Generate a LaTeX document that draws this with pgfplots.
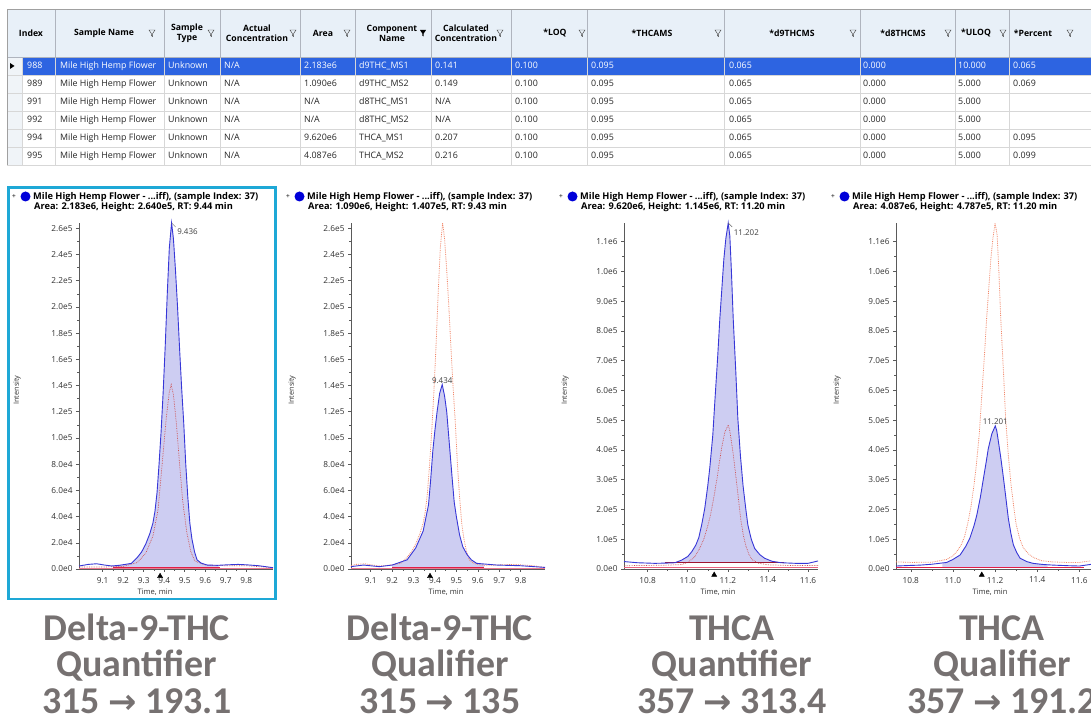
\documentclass[border=0pt]{standalone}
\usepackage{fontspec}
\setmainfont{Open Sans}
\newfontfamily\calib{Carlito}
\newfontfamily\dejavu{DejaVu Sans}
\usepackage{pgfplots}
\pgfplotsset{compat=1.18}

\definecolor{hdrbg}{RGB}{232,240,248}
\definecolor{selcol}{RGB}{240,244,248}
\definecolor{selbg}{RGB}{45,100,225}
\definecolor{gridc}{RGB}{215,215,215}
\definecolor{hgrid}{RGB}{175,180,190}
\definecolor{tborder}{RGB}{160,160,160}
\definecolor{framec}{RGB}{30,168,214}
\definecolor{lbl}{RGB}{118,113,113}
\definecolor{traceblue}{RGB}{55,55,215}
\definecolor{fillblue}{RGB}{205,205,242}
\definecolor{tracered}{RGB}{205,80,80}
\definecolor{salmon}{RGB}{242,135,105}
\definecolor{baser}{RGB}{225,30,70}
\definecolor{axisc}{RGB}{90,90,90}
\definecolor{pin}{RGB}{25,35,160}

\newcommand\tabfont{\fontsize{8.9}{10}\selectfont}
\newcommand\hdrfont{\fontsize{8.7}{10}\selectfont\bfseries}
\newcommand\ttlfont{\fontsize{9.3}{10}\selectfont\bfseries}
\newcommand\bigfont{\calib\fontsize{38}{40}\selectfont\bfseries}
\newcommand\trow[3]{\foreach \cx/\ct in {#3}{\node[anchor=mid west, inner sep=0pt, text=#2, font=\tabfont] at (\cx,#1) {\ct};}}

\pgfplotsset{chrom/.style={
  scale only axis, anchor=south west, height=346bp,
  axis lines=left, axis line style={axisc, -, line width=0.6pt},
  tick style={axisc, line width=0.5pt}, tick align=outside,
  major tick length=3bp, minor tick length=1.8bp,
  minor y tick num=1, minor x tick num=1,
  tick label style={font=\fontsize{8.3}{9}\selectfont, text=black!80},
  xticklabel style={yshift=-1.5bp},
  /pgf/number format/assume math mode=true,
  xticklabel={\pgfmathprintnumber[fixed,fixed zerofill,precision=1]{\tick}},
  scaled y ticks=false, scaled x ticks=false,
  clip=false, ymin=0,
}}

\begin{document}
\begin{tikzpicture}
\useasboundingbox (0,0) rectangle (1091bp,723bp);
\fill[white] (0,0) rectangle (1091bp,723bp);

\begin{scope}[x=1bp,y=1bp]
% ---------------- table ----------------
\fill[hdrbg] (7,666) rectangle (1091,714);
\fill[selcol] (7,558) rectangle (22,666);
\fill[selbg] (22,648) rectangle (1091,666);
\foreach \hy in {648,630,612,594,576,558} {\draw[gridc, line width=0.6] (7,\hy) -- (1091,\hy);}
\foreach \vx in {22,55,164,220,300,355,431,511,587,724,860,955,1009} {\draw[gridc, line width=0.6] (\vx,558) -- (\vx,666);}
\foreach \vx in {55,164,220,300,355,431,511,587,724,860,955,1009} {\draw[hgrid, line width=0.6] (\vx,666) -- (\vx,714);}
\draw[hgrid, line width=0.8] (7,666) -- (1091,666);
\draw[tborder, line width=0.8] (1091,714) -- (7,714) -- (7,558);
\fill[black] (10,654) -- (10,660) -- (14.5,657) -- cycle;
% header text
\node[font=\hdrfont] at (31,690) {Index};
\node[font=\hdrfont] at (104,690) {Sample Name};
\node[font=\hdrfont, align=center] at (187,690) {Sample\\Type};
\node[font=\hdrfont, align=center] at (257,690) {Actual\\Concentration};
\node[font=\hdrfont] at (323,690) {Area};
\node[font=\hdrfont, align=center] at (392,690) {Component\\Name};
\node[font=\hdrfont, align=center] at (466,690) {Calculated\\Concentration};
\node[font=\hdrfont] at (555,690) {*LOQ};
\node[font=\hdrfont] at (652,690) {*THCAMS};
\node[font=\hdrfont] at (792,690) {*d9THCMS};
\node[font=\hdrfont] at (903,690) {*d8THCMS};
\node[font=\hdrfont] at (976,690) {*ULOQ};
\node[font=\hdrfont] at (1033,690) {*Percent};
\foreach \fx in {152,211,293,347,500,582,718,853,948,1003,1070} {
  \draw[black!70, line width=0.5] (\fx-3,693) -- (\fx+3,693) -- (\fx+0.7,689.5) -- (\fx+0.7,686.5) -- (\fx-0.7,687.3) -- (\fx-0.7,689.5) -- cycle;}
\fill[pin] (423-3,693) -- (423+3,693) -- (423+0.7,689.5) -- (423+0.7,686.5) -- (423-0.7,687.3) -- (423-0.7,689.5) -- cycle;
% rows
\trow{657}{white}{27/988, 60/Mile High Hemp Flower, 168/Unknown, 224/{N/A}, 304/2.183e6, 359/d9THC\_MS1, 435/0.141, 515/0.100, 591/0.095, 729/0.065, 863/0.000, 958/10.000, 1013/0.065}
\trow{639}{black!85}{27/989, 60/Mile High Hemp Flower, 168/Unknown, 224/{N/A}, 304/1.090e6, 359/d9THC\_MS2, 435/0.149, 515/0.100, 591/0.095, 729/0.065, 863/0.000, 958/5.000, 1013/0.069}
\trow{621}{black!85}{27/991, 60/Mile High Hemp Flower, 168/Unknown, 224/{N/A}, 304/{N/A}, 359/d8THC\_MS1, 435/{N/A}, 515/0.100, 591/0.095, 729/0.065, 863/0.000, 958/5.000}
\trow{603}{black!85}{27/992, 60/Mile High Hemp Flower, 168/Unknown, 224/{N/A}, 304/{N/A}, 359/d8THC\_MS2, 435/{N/A}, 515/0.100, 591/0.095, 729/0.065, 863/0.000, 958/5.000}
\trow{585}{black!85}{27/994, 60/Mile High Hemp Flower, 168/Unknown, 224/{N/A}, 304/9.620e6, 359/THCA\_MS1, 435/0.207, 515/0.100, 591/0.095, 729/0.065, 863/0.000, 958/5.000, 1013/0.095}
\trow{567}{black!85}{27/995, 60/Mile High Hemp Flower, 168/Unknown, 224/{N/A}, 304/4.087e6, 359/THCA\_MS2, 435/0.216, 515/0.100, 591/0.095, 729/0.065, 863/0.000, 958/5.000, 1013/0.099}

% ---------------- panel headers ----------------
\foreach \px/\ar/\he/\rt in {33/2.183e6/2.640e5/9.44, 307/1.090e6/1.407e5/9.43, 580/9.620e6/1.145e6/11.20, 852/4.087e6/4.787e5/11.20} {
  \node[anchor=base, font=\fontsize{6.5}{6.5}\selectfont\bfseries, text=black!70, inner sep=0pt] at (\px-19,524) {+};
  \fill[blue!85!black] (\px-7.5,526.5) circle (5);
  \node[anchor=base west, inner sep=0pt, font=\ttlfont] at (\px,523.5) {Mile High Hemp Flower - ...iff), (sample Index: 37)};
  \node[anchor=base west, inner sep=0pt, font=\ttlfont] at (\px+1,513) {Area: \ar, Height: \he, RT: \rt\ min};
}
% axis titles
\foreach \ix in {17,292,565,837} {\node[rotate=90, font=\fontsize{7.3}{7.5}\selectfont, text=black!80] at (\ix,333) {Intensity};}
\foreach \tx in {155,446,718,990} {\node[font=\fontsize{7.6}{8}\selectfont, text=black!80] at (\tx,131) {Time, min};}

% frame of panel 1
\draw[framec, line width=3] (8.5,124) rectangle (275.5,535.5);

% ---------------- bottom labels ----------------
\foreach \lx/\la/\lb/\lc/\ld in {137/Delta-9-THC/Quantifier/315/193.1, 440/Delta-9-THC/Qualifier/315/135, 732/THCA/Quantifier/357/313.4, 1002/THCA/Qualifier/357/191.2} {
  \node[anchor=base, text=lbl, font=\bigfont, inner sep=0pt] at (\lx,83) {\la};
  \node[anchor=base, text=lbl, font=\bigfont, inner sep=0pt] at (\lx,46.5) {\lb};
  \node[anchor=base, text=lbl, font=\bigfont, inner sep=0pt] at (\lx,10) {\lc\ {\dejavu\bfseries\fontsize{34}{34}\selectfont →}\ \ld};
}
\end{scope}

% ================= Panel 1 =================
\begin{axis}[chrom, at={(79bp,154bp)}, width=194bp, xmin=8.985, xmax=9.93, ymax=264000,
  xtick={9.1,9.2,9.3,9.4,9.5,9.6,9.7,9.8},
  ytick={0,20000,40000,60000,80000,100000,120000,140000,160000,180000,200000,220000,240000,260000},
  yticklabels={0.0e0,2.0e4,4.0e4,6.0e4,8.0e4,1.0e5,1.2e5,1.4e5,1.6e5,1.8e5,2.0e5,2.2e5,2.4e5,2.6e5}]
\addplot[draw=none, fill=fillblue] coordinates {(9.15,1000)(9.15,2400)(9.18,2800)(9.21,3500)(9.24,4300)(9.27,9000)(9.29,13000)(9.31,19000)(9.33,27000)(9.345,35000)(9.355,44000)(9.365,58000)(9.375,80000)(9.385,105000)(9.395,135000)(9.405,170000)(9.415,210000)(9.425,245000)(9.436,264000)(9.445,252000)(9.455,228000)(9.465,200000)(9.475,168000)(9.485,138000)(9.495,112000)(9.505,80000)(9.515,55000)(9.525,35000)(9.535,23000)(9.548,13000)(9.56,7000)(9.58,4500)(9.61,3000)(9.66,2800)(9.67,1000)};
\addplot[baser!60, line width=0.7bp] coordinates {(8.985,500)(9.93,500)};
\addplot[tracered, densely dotted, line width=0.7bp] coordinates {(8.985,1500)(9.1,1500)(9.2,2000)(9.27,5000)(9.31,12000)(9.345,25000)(9.37,45000)(9.39,80000)(9.41,115000)(9.425,135000)(9.434,140700)(9.445,133000)(9.46,110000)(9.475,80000)(9.49,52000)(9.51,28000)(9.53,13000)(9.55,6000)(9.6,3000)(9.7,2500)(9.8,2500)(9.93,1000)};
\addplot[baser, line width=1.3bp] coordinates {(9.15,1000)(9.67,1000)};
\addplot[traceblue, line width=0.9bp] coordinates {(8.985,2300)(9.03,3500)(9.07,4000)(9.11,3000)(9.145,2300)(9.18,2800)(9.21,3500)(9.24,4300)(9.27,9000)(9.29,13000)(9.31,19000)(9.33,27000)(9.345,35000)(9.355,44000)(9.365,58000)(9.375,80000)(9.385,105000)(9.395,135000)(9.405,170000)(9.415,210000)(9.425,245000)(9.436,264000)(9.445,252000)(9.455,228000)(9.465,200000)(9.475,168000)(9.485,138000)(9.495,112000)(9.505,80000)(9.515,55000)(9.525,35000)(9.535,23000)(9.548,13000)(9.56,7000)(9.58,4500)(9.61,3000)(9.66,2800)(9.71,3200)(9.76,3500)(9.8,3200)(9.86,2500)(9.93,1000)};
\addplot[only marks, mark=triangle*, mark size=3bp, pin] coordinates {(9.38,-5500)};
\draw[black!60, line width=0.4bp] (axis cs:9.436,264000) -- ++(4bp,-4bp);
\node[anchor=west, font=\fontsize{8}{8}\selectfont, text=black!75, inner sep=1pt] at (axis cs:9.436,264000) [xshift=4.5bp, yshift=-9bp] {9.436};
\end{axis}

% ================= Panel 2 =================
\begin{axis}[chrom, at={(351bp,154bp)}, width=194bp, xmin=9.008, xmax=9.914, ymax=264000,
  xtick={9.1,9.2,9.3,9.4,9.5,9.6,9.7,9.8},
  ytick={0,20000,40000,60000,80000,100000,120000,140000,160000,180000,200000,220000,240000,260000},
  yticklabels={0.0e0,2.0e4,4.0e4,6.0e4,8.0e4,1.0e5,1.2e5,1.4e5,1.6e5,1.8e5,2.0e5,2.2e5,2.4e5,2.6e5}]
\addplot[draw=none, fill=fillblue] coordinates {(9.2,1000)(9.2,3000)(9.27,7000)(9.31,16000)(9.345,29000)(9.37,49000)(9.38,68000)(9.39,90000)(9.40,106000)(9.41,120000)(9.422,134000)(9.434,140700)(9.445,132000)(9.455,120000)(9.47,90000)(9.48,70000)(9.49,51000)(9.5,40000)(9.515,26000)(9.53,17000)(9.55,11000)(9.57,7000)(9.595,4300)(9.63,3600)(9.63,1000)};
\addplot[baser!60, line width=0.7bp] coordinates {(9.008,500)(9.914,500)};
\addplot[salmon, densely dotted, line width=0.8bp] coordinates {(9.008,2500)(9.03,3500)(9.07,4000)(9.11,3000)(9.145,2300)(9.18,2800)(9.21,3500)(9.24,4300)(9.27,9000)(9.29,13000)(9.31,19000)(9.33,27000)(9.345,35000)(9.355,44000)(9.365,58000)(9.375,80000)(9.385,105000)(9.395,135000)(9.405,170000)(9.415,210000)(9.425,245000)(9.436,264000)(9.445,252000)(9.455,228000)(9.465,200000)(9.475,168000)(9.485,138000)(9.495,112000)(9.505,80000)(9.515,55000)(9.525,35000)(9.535,23000)(9.548,13000)(9.56,7000)(9.58,4500)(9.61,3000)(9.66,2800)(9.71,3200)(9.76,3500)(9.8,3200)(9.86,2500)(9.914,1200)};
\addplot[baser, line width=1.3bp] coordinates {(9.2,1000)(9.63,1000)};
\addplot[traceblue, line width=0.9bp] coordinates {(9.008,1800)(9.066,3000)(9.14,1800)(9.2,3000)(9.27,7000)(9.31,16000)(9.345,29000)(9.37,49000)(9.38,68000)(9.39,90000)(9.40,106000)(9.41,120000)(9.422,134000)(9.434,140700)(9.445,132000)(9.455,120000)(9.47,90000)(9.48,70000)(9.49,51000)(9.5,40000)(9.515,26000)(9.53,17000)(9.55,11000)(9.57,7000)(9.595,4300)(9.69,3000)(9.8,2500)(9.914,1200)};
\addplot[only marks, mark=triangle*, mark size=3bp, pin] coordinates {(9.377,-5500)};
\node[anchor=south, font=\fontsize{8}{8}\selectfont, text=black!75, inner sep=1pt] at (axis cs:9.434,140700) {9.434};
\end{axis}

% ================= Panel 3 =================
\begin{axis}[chrom, at={(624bp,154bp)}, width=194bp, xmin=10.682, xmax=11.65, ymax=1163000,
  xtick={10.8,11.0,11.2,11.4,11.6},
  ytick={0,100000,200000,300000,400000,500000,600000,700000,800000,900000,1000000,1100000},
  yticklabels={0.0e0,1.0e5,2.0e5,3.0e5,4.0e5,5.0e5,6.0e5,7.0e5,8.0e5,9.0e5,1.0e6,1.1e6}]
\addplot[draw=none, fill=fillblue] coordinates {(10.886,22000)(10.9,20000)(10.936,21000)(10.97,30000)(11.0,42000)(11.02,58000)(11.04,80000)(11.055,105000)(11.07,150000)(11.085,204000)(11.1,280000)(11.11,340000)(11.125,450000)(11.135,560000)(11.15,720000)(11.16,840000)(11.17,940000)(11.18,1040000)(11.19,1110000)(11.202,1163000)(11.21,1120000)(11.218,1000000)(11.227,840000)(11.24,660000)(11.25,506000)(11.263,380000)(11.276,280000)(11.29,200000)(11.30,148000)(11.317,100000)(11.334,69000)(11.36,48000)(11.384,36000)(11.42,26000)(11.467,21000)(11.48,22000)};
\addplot[baser!70, line width=0.8bp] coordinates {(10.682,4000)(11.65,4000)};
\addplot[tracered, densely dotted, line width=0.7bp] coordinates {(10.682,11000)(10.8,12000)(10.9,13000)(10.97,15000)(11.0,22000)(11.034,40000)(11.06,70000)(11.08,100000)(11.1,145000)(11.113,180000)(11.13,240000)(11.145,300000)(11.158,360000)(11.17,410000)(11.185,460000)(11.202,484000)(11.21,465000)(11.218,428000)(11.23,370000)(11.242,300000)(11.254,230000)(11.265,165000)(11.277,115000)(11.29,78000)(11.305,50000)(11.32,32000)(11.35,20000)(11.4,14000)(11.5,12000)(11.65,12000)};
\addplot[baser!70!black, line width=1.1bp] coordinates {(10.886,22000)(11.48,22000)};
\addplot[traceblue, line width=0.9bp] coordinates {(10.682,25000)(10.75,21000)(10.837,19000)(10.9,20000)(10.936,21000)(10.97,30000)(11.0,42000)(11.02,58000)(11.04,80000)(11.055,105000)(11.07,150000)(11.085,204000)(11.1,280000)(11.11,340000)(11.125,450000)(11.135,560000)(11.15,720000)(11.16,840000)(11.17,940000)(11.18,1040000)(11.19,1110000)(11.202,1163000)(11.21,1120000)(11.218,1000000)(11.227,840000)(11.24,660000)(11.25,506000)(11.263,380000)(11.276,280000)(11.29,200000)(11.30,148000)(11.317,100000)(11.334,69000)(11.36,48000)(11.384,36000)(11.42,26000)(11.467,21000)(11.54,19000)(11.6,19000)(11.65,27000)};
\addplot[only marks, mark=triangle*, mark size=3bp, pin] coordinates {(11.132,-20000)};
\draw[black!60, line width=0.4bp] (axis cs:11.202,1163000) -- ++(4bp,-4bp);
\node[anchor=west, font=\fontsize{8}{8}\selectfont, text=black!75, inner sep=1pt] at (axis cs:11.202,1163000) [xshift=4.5bp, yshift=-10bp] {11.202};
\end{axis}

% ================= Panel 4 =================
\begin{axis}[chrom, at={(896bp,154bp)}, width=196bp, xmin=10.73, xmax=11.66, ymax=1163000,
  xtick={10.8,11.0,11.2,11.4,11.6},
  ytick={0,100000,200000,300000,400000,500000,600000,700000,800000,900000,1000000,1100000},
  yticklabels={0.0e0,1.0e5,2.0e5,3.0e5,4.0e5,5.0e5,6.0e5,7.0e5,8.0e5,9.0e5,1.0e6,1.1e6}]
\addplot[draw=none, fill=fillblue] coordinates {(10.95,4000)(10.95,19000)(10.97,22000)(11.0,32000)(11.034,47000)(11.06,75000)(11.08,103000)(11.1,145000)(11.113,180000)(11.13,240000)(11.145,305000)(11.158,360000)(11.168,405000)(11.185,455000)(11.201,481000)(11.208,465000)(11.216,428000)(11.228,370000)(11.24,305000)(11.252,235000)(11.263,170000)(11.275,120000)(11.287,81000)(11.303,55000)(11.319,36000)(11.35,25000)(11.38,19000)(11.43,15000)(11.45,14500)(11.45,4000)};
\addplot[salmon, densely dotted, line width=0.8bp] coordinates {(10.73,24000)(10.8,22000)(10.9,23000)(10.97,32000)(11.0,44000)(11.02,60000)(11.04,82000)(11.055,108000)(11.07,152000)(11.085,206000)(11.1,282000)(11.11,342000)(11.125,452000)(11.135,562000)(11.15,722000)(11.16,842000)(11.17,942000)(11.18,1042000)(11.19,1112000)(11.2,1163000)(11.21,1122000)(11.218,1002000)(11.227,842000)(11.24,662000)(11.25,508000)(11.263,382000)(11.276,282000)(11.29,202000)(11.3,150000)(11.317,102000)(11.334,71000)(11.36,50000)(11.384,38000)(11.42,28000)(11.467,24000)(11.54,22000)(11.6,22000)(11.66,28000)};
\addplot[baser, line width=1.3bp] coordinates {(10.73,4000)(11.62,4000)};
\addplot[traceblue, line width=0.9bp] coordinates {(10.73,10000)(10.8,12000)(10.844,13000)(10.9,16000)(10.97,22000)(11.0,32000)(11.034,47000)(11.06,75000)(11.08,103000)(11.1,145000)(11.113,180000)(11.13,240000)(11.145,305000)(11.158,360000)(11.168,405000)(11.185,455000)(11.201,481000)(11.208,465000)(11.216,428000)(11.228,370000)(11.24,305000)(11.252,235000)(11.263,170000)(11.275,120000)(11.287,81000)(11.303,55000)(11.319,36000)(11.35,25000)(11.38,19000)(11.43,15000)(11.477,13000)(11.55,11000)(11.6,10000)(11.66,16000)};
\addplot[only marks, mark=triangle*, mark size=3bp, pin] coordinates {(11.137,-20000)};
\node[anchor=south, font=\fontsize{8}{8}\selectfont, text=black!75, inner sep=1pt] at (axis cs:11.201,481000) {11.201};
\end{axis}
\end{tikzpicture}
\end{document}
